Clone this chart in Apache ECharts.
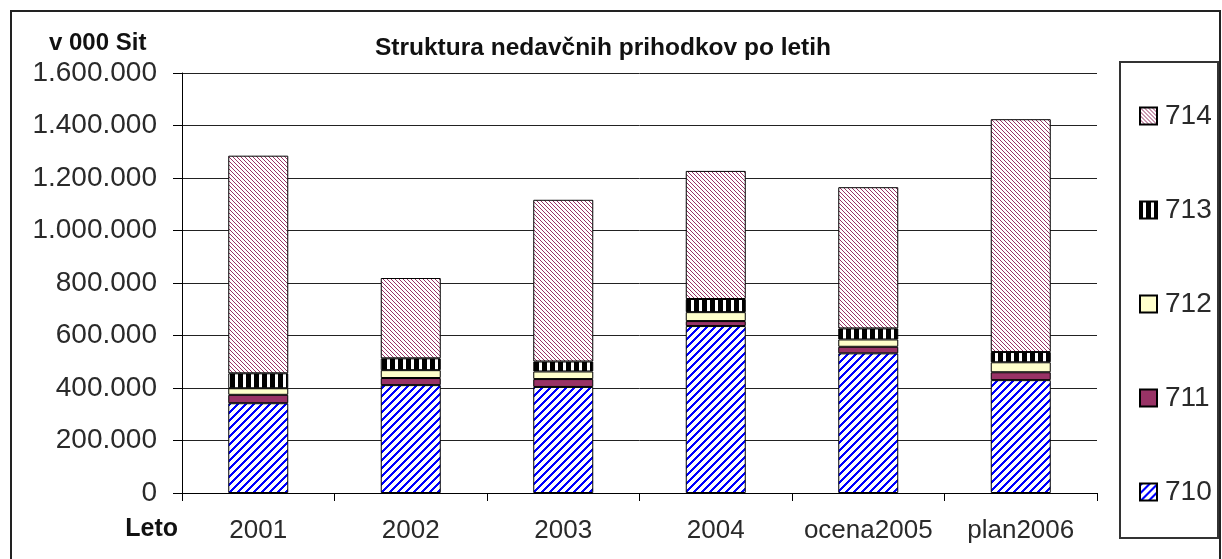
<!DOCTYPE html>
<html>
<head>
<meta charset="utf-8">
<script src="https://cdn.jsdelivr.net/npm/echarts@6/dist/echarts.min.js"></script>
<style>
html,body{margin:0;padding:0;background:#fff;}
#c{width:1222px;height:559px;}
</style>
</head>
<body>
<div id="c"></div>
<script>
// ---- data (values in 000 SIT) ----
const categories = ['2001', '2002', '2003', '2004', 'ocena2005', 'plan2006'];
const s710 = [342000, 411000, 404000, 636000, 532000, 430000];
const s711 = [32000, 27000, 30000, 19000, 25000, 30000];
const s712 = [25000, 30000, 29000, 34000, 28000, 38000];
const s713 = [57000, 45000, 38000, 50000, 42000, 39000];
const s714 = [829000, 306000, 616000, 488000, 538000, 887000];
const seriesNames = ['710', '711', '712', '713', '714'];
const yTicks = [0, 200000, 400000, 600000, 800000, 1000000, 1200000, 1400000, 1600000];

const FONT = "'Liberation Sans', Arial, sans-serif";

function pattern(w, h, draw) {
  const c = document.createElement('canvas');
  c.width = w; c.height = h;
  const ctx = c.getContext('2d');
  draw(ctx, w, h);
  return { image: c, repeat: 'repeat' };
}
// 710: blue "/" stripes on white
const p710 = pattern(8, 8, (ctx, w, h) => {
  ctx.fillStyle = '#fff'; ctx.fillRect(0, 0, w, h);
  ctx.fillStyle = '#0000ff';
  for (let y = 0; y < h; y++) for (let x = 0; x < w; x++) {
    if ((x + y) % 8 < 3) ctx.fillRect(x, y, 1, 1);
  }
});
// 714: thin purple "\" lines on white
const p714 = pattern(4, 4, (ctx, w, h) => {
  ctx.fillStyle = '#fff'; ctx.fillRect(0, 0, w, h);
  ctx.fillStyle = '#993366';
  for (let y = 0; y < h; y++) for (let x = 0; x < w; x++) {
    if (((x - y) % 4 + 4) % 4 === 0) ctx.fillRect(x, y, 1, 1);
  }
});
// 713: black with white vertical bars
const p713 = pattern(8, 8, (ctx, w, h) => {
  ctx.fillStyle = '#000'; ctx.fillRect(0, 0, w, h);
  ctx.fillStyle = '#fff'; ctx.fillRect(3, 0, 3, h);
});

const fills = { '710': p710, '711': '#993366', '712': '#ffffcc', '713': p713, '714': p714 };
const values = { '710': s710, '711': s711, '712': s712, '713': s713, '714': s714 };

function fmt(v) {
  return String(v).replace(/\B(?=(\d{3})+(?!\d))/g, '.');
}

const chart = echarts.init(document.getElementById('c'), null, { renderer: 'canvas' });
chart.setOption({
  animation: false,
  backgroundColor: '#fff',
  textStyle: { fontFamily: FONT },
  grid: { left: 182, right: 125, top: 73, bottom: 66 },
  legend: {
    orient: 'vertical',
    left: 1134, top: 97,
    itemWidth: 17, itemHeight: 17,
    itemGap: 66,
    icon: 'rect',
    data: ['714', '713', '712', '711', '710'],
    textStyle: { fontSize: 28, color: '#2a2a2a', fontFamily: FONT, lineHeight: 28, padding: [0, 0, 0, 3] },
    selectedMode: false
  },
  xAxis: {
    type: 'category',
    data: categories,
    axisLine: { show: true, lineStyle: { color: '#000', width: 1 } },
    axisTick: { show: true, length: 8, interval: 0, lineStyle: { color: '#000' } },
    axisLabel: { fontSize: 26, color: '#2a2a2a', margin: 25, interval: 0, fontFamily: FONT }
  },
  yAxis: {
    type: 'value',
    min: yTicks[0], max: yTicks[yTicks.length - 1], interval: yTicks[1] - yTicks[0],
    axisLine: { show: true, lineStyle: { color: '#000', width: 1 } },
    axisTick: { show: true, length: 9, lineStyle: { color: '#000' } },
    splitLine: { show: true, lineStyle: { color: '#222', width: 1 } },
    axisLabel: { fontSize: 28, color: '#2a2a2a', margin: 25, fontFamily: FONT, formatter: v => fmt(v) }
  },
  graphic: [
    { type: 'rect', shape: { x: 11, y: 11, width: 1209, height: 600 }, style: { fill: 'none', stroke: '#222', lineWidth: 2 }, silent: true },
    { type: 'rect', shape: { x: 1120, y: 62, width: 98, height: 476 }, style: { fill: 'none', stroke: '#333', lineWidth: 2 }, silent: true },
    { type: 'text', x: 603, y: 36, style: { text: 'Struktura nedavčnih prihodkov po letih', font: 'bold 24.5px ' + FONT, fill: '#111', textAlign: 'center', textVerticalAlign: 'top' } },
    { type: 'text', x: 49, y: 31, style: { text: 'v 000 Sit', font: 'bold 24px ' + FONT, fill: '#111', textAlign: 'left', textVerticalAlign: 'top' } },
    { type: 'text', x: 178, y: 517, style: { text: 'Leto', font: 'bold 25px ' + FONT, fill: '#111', textAlign: 'right', textVerticalAlign: 'top' } }
  ],
  series: seriesNames.map(n => ({
    name: n,
    type: 'bar',
    stack: 'total',
    barWidth: 60,
    data: values[n],
    itemStyle: { color: fills[n], borderColor: '#000', borderWidth: 1 }
  }))
});
</script>
</body>
</html>
